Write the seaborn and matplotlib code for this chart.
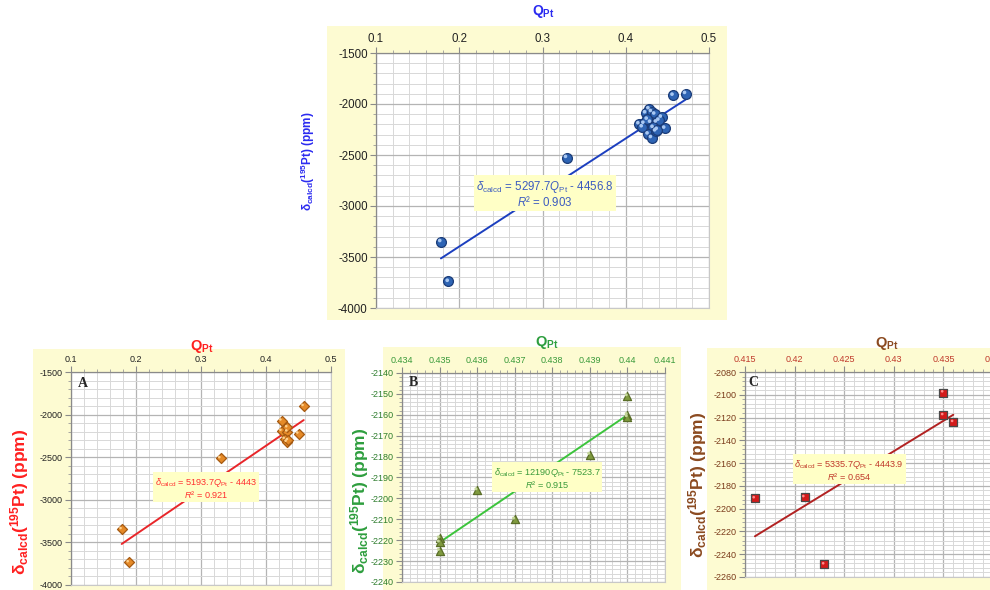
import numpy as np
import pandas as pd
import matplotlib
matplotlib.use("Agg")
import matplotlib.pyplot as plt
import seaborn as sns
from matplotlib.patches import Rectangle
from matplotlib.ticker import MultipleLocator, FuncFormatter
from matplotlib.transforms import offset_copy

# ---------------------------------------------------------------- data
# all complexes
q_all = [0.178, 0.187, 0.329, 0.457, 0.472, 0.428, 0.424, 0.431, 0.435, 0.416,
         0.422, 0.430, 0.437, 0.443, 0.440, 0.447, 0.433, 0.427, 0.431, 0.436,
         0.420, 0.438, 0.426]
d_all = [-3350, -3740, -2525, -1915, -1898, -2048, -2088, -2075, -2100, -2195,
         -2190, -2180, -2178, -2130, -2160, -2238, -2230, -2295, -2330, -2265,
         -2225, -2250, -2150]
fit_all = (5297.7, -4456.8, 0.903)

# set A
q_a = [0.178, 0.189, 0.330, 0.458, 0.424, 0.424, 0.433, 0.433, 0.450, 0.429, 0.432, 0.434]
d_a = [-3345, -3734, -2513, -1900, -2071, -2192, -2200, -2150, -2224, -2286, -2320, -2300]
fit_a = (5193.7, -4443.0, 0.921)

# set B
q_b = [0.435, 0.435, 0.435, 0.436, 0.437, 0.439, 0.440, 0.440, 0.440]
d_b = [-2219, -2221, -2225, -2196, -2210, -2179, -2151, -2160, -2161]
fit_b = (12190.0, -7523.7, 0.915)

# set C
q_c = [0.416, 0.421, 0.423, 0.435, 0.435, 0.436]
d_c = [-2191, -2190, -2249, -2098, -2118, -2124]
fit_c = (5335.7, -4443.9, 0.654)

# ---------------------------------------------------------------- style
sns.set_theme(style="white")
plt.rcParams['font.family'] = ['Liberation Sans', 'DejaVu Sans']
plt.rcParams['mathtext.fontset'] = 'custom'
plt.rcParams['mathtext.rm'] = 'Liberation Sans'
plt.rcParams['mathtext.it'] = 'Liberation Sans:italic'
plt.rcParams['mathtext.bf'] = 'Liberation Sans:bold'
plt.rcParams['axes.unicode_minus'] = False

W, H = 990, 590
YELLOW = '#fdfbd2'
fig = plt.figure(figsize=(W / 100, H / 100), dpi=100)
fig.patch.set_facecolor('white')


def frac_rect(l, t, r, b):
    return [l / W, 1 - b / H, (r - l) / W, (b - t) / H]


def chart_area(l, t, r, b):
    x, y, w, h = frac_rect(l, t, r, b)
    fig.patches.append(Rectangle((x, y), w, h, transform=fig.transFigure,
                                 facecolor=YELLOW, edgecolor='none', zorder=-5))


fmt = FuncFormatter(lambda v, p: f"{v:g}")

YLAB = r'$\mathbf{\delta_{calcd}(^{195}Pt)\ (ppm)}$'
XLAB = r'$\mathbf{Q_{Pt}}$'


def panel(rect, xlim, ylim, xmaj, xmin, ymaj, ymin, q, d, fit, marker, mcol, medge,
          msize, hcol, lcol, lab_col, xtick_col, ytick_col, tick_fs, xlab_fs, ylab_fs,
          xlab_xy, ylab_xy, eq_xy, eq_fs, eq_col, letter=None, letter_xy=None):
    ax = fig.add_axes(rect)
    ax.set_facecolor('white')
    ax.set_xlim(*xlim)
    ax.set_ylim(*ylim)
    ax.xaxis.set_major_locator(MultipleLocator(xmaj))
    ax.xaxis.set_minor_locator(MultipleLocator(xmin))
    ax.yaxis.set_major_locator(MultipleLocator(ymaj))
    ax.yaxis.set_minor_locator(MultipleLocator(ymin))
    ax.xaxis.set_major_formatter(fmt)
    ax.yaxis.set_major_formatter(fmt)
    ax.xaxis.tick_top()
    ax.xaxis.set_label_position('top')
    ax.grid(which='major', color='#b4b4b4', lw=0.9)
    ax.grid(which='minor', color='#d8d8d8', lw=0.7)
    ax.set_axisbelow(True)
    for s in ['left', 'top']:
        ax.spines[s].set_color('#8a8a8a')
        ax.spines[s].set_linewidth(0.9)
    for s in ['right', 'bottom']:
        ax.spines[s].set_color('#c8c8c8')
        ax.spines[s].set_linewidth(0.8)
    ax.tick_params(which='major', direction='out', length=4, width=0.8, color='#8a8a8a',
                   labelsize=tick_fs, pad=2, top=True, bottom=False, left=True, right=False)
    ax.tick_params(which='minor', direction='out', length=2.5, width=0.6, color='#9a9a9a',
                   top=True, bottom=False, left=True, right=False)
    ax.tick_params(axis='x', labelcolor=xtick_col)
    ax.tick_params(axis='y', labelcolor=ytick_col)

    slope, icpt, r2 = fit
    df = pd.DataFrame({'q': q, 'd': d})
    xs = np.array([min(q), max(q)])
    line_df = pd.DataFrame({'q': xs, 'd': slope * xs + icpt})
    sns.lineplot(data=line_df, x='q', y='d', ax=ax, color=lcol, lw=1.4, zorder=3)
    sns.scatterplot(data=df, x='q', y='d', ax=ax, marker=marker, color=mcol,
                    edgecolor=medge, linewidth=0.9, s=msize, zorder=4)
    hl = offset_copy(ax.transData, fig=fig, x=-1.2, y=1.2, units='dots')
    sns.scatterplot(data=df, x='q', y='d', ax=ax, marker='o', color=hcol,
                    edgecolor='none', s=msize * 0.14, zorder=5, transform=hl)

    eq = (r'$\delta_{\rm calcd}$ = ' + f'{slope:g}' + r'$Q_{\rm Pt}$ - ' + f'{abs(icpt):g}'
          + '\n' + r'$R$² = ' + f'{r2:.3f}')
    ax.text(eq_xy[0], eq_xy[1], eq, ha='center', va='center', multialignment='center',
            fontsize=eq_fs, color=eq_col, zorder=6, linespacing=1.0,
            bbox=dict(boxstyle='square,pad=0.2', fc='#ffffc6', ec='none'))

    ax.set_xlabel(XLAB, color=lab_col, fontsize=xlab_fs)
    ax.set_ylabel(YLAB, color=lab_col, fontsize=ylab_fs)
    ax.xaxis.set_label_coords(*xlab_xy)
    ax.yaxis.set_label_coords(*ylab_xy)
    ax.xaxis.label.set_verticalalignment('center')
    ax.yaxis.label.set_verticalalignment('center')
    if letter:
        ax.text(letter_xy[0], letter_xy[1], letter, transform=ax.transAxes,
                fontsize=10, fontweight='bold', family='Liberation Serif',
                ha='center', va='center', zorder=7)
    return ax


# chart areas
chart_area(327, 26, 727, 320)
chart_area(33, 349, 345, 590)
chart_area(383, 347, 681, 590)
chart_area(707, 348, 990, 590)

# all complexes
panel(frac_rect(376, 53, 709, 308), (0.1, 0.5), (-4000, -1500), 0.1, 0.02, 500, 100,
      q_all, d_all, fit_all, 'o', '#2e64b4', '#1b3c78', 50, '#a9c8f2', '#1c3fbf',
      '#2b2bf0', '#222222', '#222222', 8.3, 10, 8.5,
      (0.5015, 1.161), (-0.204, 0.576), (0.303, -2882), 8.3, '#3c5cc0')

# panel A
panel(frac_rect(71, 372, 331, 585), (0.1, 0.5), (-4000, -1500), 0.1, 0.02, 500, 100,
      q_a, d_a, fit_a, 'D', '#e58a28', '#a65a12', 26, '#ffd08a', '#e8262a',
      '#ff2020', '#222222', '#222222', 6.5, 10.5, 12.5,
      (0.504, 1.122), (-0.196, 0.39), (0.3077, -2861), 6.6, '#ff3030',
      letter='A', letter_xy=(0.045, 0.948))

# panel B
panel(frac_rect(402, 373, 665, 582), (0.434, 0.441), (-2240, -2140), 0.001, 0.0002, 10, 2,
      q_b, d_b, fit_b, '^', '#7f9a3e', '#5a6e28', 34, '#c4d69a', '#3cc43c',
      '#2e9e3e', '#3a9a3a', '#2e7d2e', 6.5, 10.5, 12.5,
      (0.551, 1.148), (-0.16, 0.388), (0.43786, -2190.2), 6.6, '#3a9a3a',
      letter='B', letter_xy=(0.045, 0.955))

# panel C
panel(frac_rect(745, 372, 993, 577), (0.415, 0.44), (-2260, -2080), 0.005, 0.001, 20, 4,
      q_c, d_c, fit_c, 's', '#d41a1a', '#4a4a4a', 26, '#ff8a8a', '#b22222',
      '#8b4a20', '#c0392b', '#7a3a1a', 6.5, 10.5, 12.5,
      (0.573, 1.141), (-0.19, 0.449), (0.4255, -2166), 6.6, '#c0392b',
      letter='C', letter_xy=(0.035, 0.95))

fig.savefig('out.png', dpi=100)
